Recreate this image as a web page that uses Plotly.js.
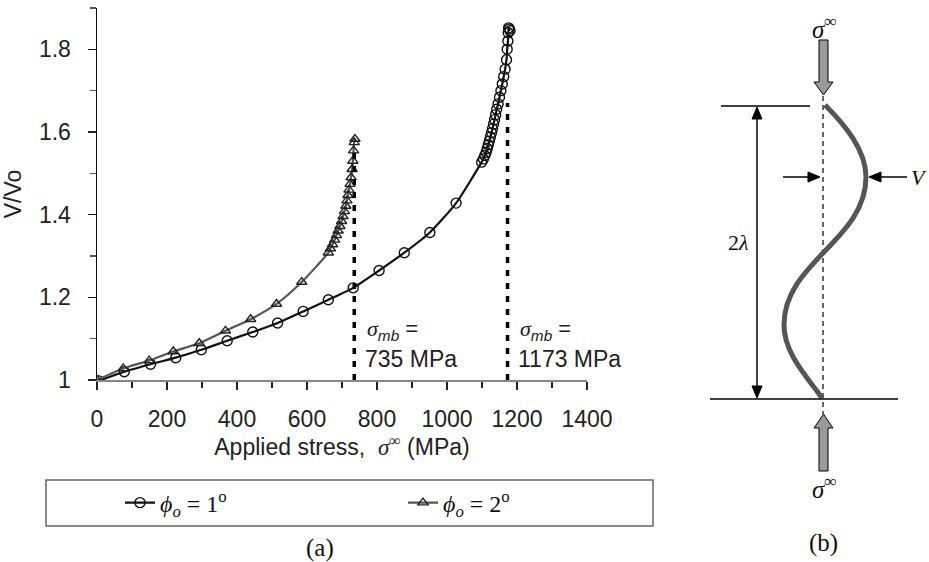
<!DOCTYPE html>
<html>
<head>
<meta charset="utf-8">
<script src="https://cdn.plot.ly/plotly-3.0.1.min.js"></script>
<style>html,body{margin:0;padding:0;background:#fff;}#chart{width:929px;height:562px;}</style>
</head>
<body>
<div id="chart"></div>
<script>
// ---- data ----
const stress1 = [5, 78, 153, 225, 298, 372, 445, 516, 589, 661, 732, 806, 878, 951, 1026,
  1099, 1104, 1108, 1112, 1115, 1118, 1121, 1124, 1127, 1130, 1133, 1136, 1139, 1142, 1146,
  1150, 1154, 1158, 1162, 1166, 1170, 1172, 1174, 1175, 1176, 1178, 1180];
const ratio1 = [0.998, 1.020, 1.038, 1.054, 1.073, 1.095, 1.116, 1.138, 1.166, 1.194, 1.223, 1.265, 1.308, 1.357, 1.428,
  1.527, 1.535, 1.543, 1.551, 1.560, 1.569, 1.578, 1.588, 1.598, 1.608, 1.619, 1.630, 1.642, 1.655, 1.668,
  1.684, 1.700, 1.716, 1.734, 1.752, 1.775, 1.800, 1.820, 1.840, 1.852, 1.849, 1.845];
const stress2 = [0, 75, 149, 218, 292, 367, 439, 513, 585, 661, 667, 673, 679, 684, 689, 694,
  699, 703, 707, 711, 714, 717, 720, 723, 726, 729, 731, 733, 735, 737];
const ratio2 = [1.000, 1.028, 1.047, 1.069, 1.089, 1.119, 1.147, 1.184, 1.237, 1.308, 1.318, 1.328, 1.339, 1.350, 1.361, 1.372,
  1.384, 1.396, 1.408, 1.421, 1.434, 1.447, 1.460, 1.474, 1.490, 1.510, 1.530, 1.555, 1.575, 1.583];
const seriesNames = ['<i>ϕ<sub>o</sub></i> = 1<sup>o</sup>', '<i>ϕ<sub>o</sub></i> = 2<sup>o</sup>'];
const mbStress = [735, 1173];
const mbTop = [1.56, 1.67];
const mbLabels = ['735 MPa', '1173 MPa'];
const xTicks = [0, 200, 400, 600, 800, 1000, 1200, 1400];
const yTicks = [1, 1.2, 1.4, 1.6, 1.8];
const yTickText = ['1', '1.2', '1.4', '1.6', '1.8'];

// ---- layout geometry helpers (pixel -> paper) ----
const L = 97, R = 587, T = 8, B = 380;
const W = 929, H = 562;
const X = px => (px - L) / (R - L);
const Y = py => (B - py) / (B - T);
const P = pts => pts.map((p, i) => (i === 0 ? 'M' : 'L') + X(p[0]).toFixed(5) + ',' + Y(p[1]).toFixed(5)).join(' ') + ' Z';

const sans = 'Liberation Sans, Arial, sans-serif';
const serif = 'Liberation Serif, Times New Roman, serif';
const grey = '#555555';
const FS = 23;

const traces = [
  {x: stress1, y: ratio1, name: seriesNames[0], legend: 'legend', mode: 'lines+markers', line: {color: '#111', width: 2.2, shape: 'spline', smoothing: 0.6},
   marker: {symbol: 'circle-open', size: 10, color: '#111', line: {width: 1.4}}},
  {x: stress2, y: ratio2, name: seriesNames[1], legend: 'legend2', mode: 'lines+markers', line: {color: grey, width: 2.2, shape: 'spline', smoothing: 0.6},
   marker: {symbol: 'triangle-up-open', size: 9, color: '#222', line: {width: 1.4}}}
];
mbStress.forEach((s, i) => {
  traces.push({x: [s, s], y: [1, mbTop[i]], mode: 'lines', showlegend: false, hoverinfo: 'skip',
    line: {color: '#000', width: 3.5, dash: '6px,7px'}});
});

// curve path (diagram b)
const C = (a) => X(a[0]).toFixed(5) + ',' + Y(a[1]).toFixed(5);
const curvePath = 'M' + C([825,105]) + ' C' + C([845,125]) + ' ' + C([866,150]) + ' ' + C([866,177]) +
  ' C' + C([866,240]) + ' ' + C([784,262]) + ' ' + C([784,325]) +
  ' C' + C([784,355]) + ' ' + C([810,380]) + ' ' + C([822,398]);

const shapes = [
  // legend frame
  {type: 'rect', xref: 'paper', yref: 'paper', x0: X(46), x1: X(653), y0: Y(526), y1: Y(480), line: {color: '#666', width: 1.5}},
  // diagram (b)
  {type: 'line', xref: 'paper', yref: 'paper', x0: X(823), x1: X(823), y0: Y(96), y1: Y(414), line: {color: '#000', width: 1.2, dash: '5px,4px'}},
  {type: 'path', xref: 'paper', yref: 'paper', path: curvePath, line: {color: '#555', width: 5}},
  {type: 'line', xref: 'paper', yref: 'paper', x0: X(721), x1: X(810), y0: Y(106), y1: Y(106), line: {color: '#000', width: 1.5}},
  {type: 'line', xref: 'paper', yref: 'paper', x0: X(710), x1: X(898), y0: Y(399), y1: Y(399), line: {color: '#000', width: 1.5}},
  {type: 'line', xref: 'paper', yref: 'paper', x0: X(757), x1: X(757), y0: Y(112), y1: Y(393), line: {color: '#000', width: 1.5}},
  {type: 'path', xref: 'paper', yref: 'paper', path: P([[757,107],[762,119],[752,119]]), fillcolor: '#000', line: {color: '#000', width: 1}},
  {type: 'path', xref: 'paper', yref: 'paper', path: P([[757,398],[762,386],[752,386]]), fillcolor: '#000', line: {color: '#000', width: 1}},
  {type: 'line', xref: 'paper', yref: 'paper', x0: X(783), x1: X(812), y0: Y(177), y1: Y(177), line: {color: '#000', width: 1.5}},
  {type: 'path', xref: 'paper', yref: 'paper', path: P([[820,177],[808,172],[808,182]]), fillcolor: '#000', line: {color: '#000', width: 1}},
  {type: 'line', xref: 'paper', yref: 'paper', x0: X(877), x1: X(907), y0: Y(177), y1: Y(177), line: {color: '#000', width: 1.5}},
  {type: 'path', xref: 'paper', yref: 'paper', path: P([[869,177],[881,172],[881,182]]), fillcolor: '#000', line: {color: '#000', width: 1}},
  {type: 'path', xref: 'paper', yref: 'paper', path: P([[819,40],[828,40],[828,82],[833,82],[823.5,95],[814,82],[819,82]]), fillcolor: '#9a9a9a', line: {color: '#000', width: 1}},
  {type: 'path', xref: 'paper', yref: 'paper', path: P([[819,471],[828,471],[828,428],[833,428],[823.5,414],[814,428],[819,428]]), fillcolor: '#9a9a9a', line: {color: '#000', width: 1}}
];

const annotations = [];
mbStress.forEach((s, i) => {
  annotations.push({x: s + 30, y: 1.122, xref: 'x', yref: 'y', xanchor: 'left', yanchor: 'middle', showarrow: false,
    text: '<span style="font-family:Liberation Serif"><i>σ</i></span><sub><i>mb</i></sub> =', font: {family: sans, size: 22, color: '#222'}});
  annotations.push({x: s + 24, y: 1.052, xref: 'x', yref: 'y', xanchor: 'left', yanchor: 'middle', showarrow: false,
    text: mbLabels[i], font: {family: sans, size: FS, color: '#222'}});
});
const txt = (px, py, text, size, family) => ({x: X(px), y: Y(py), xref: 'paper', yref: 'paper', xanchor: 'center', yanchor: 'middle',
  showarrow: false, text: text, font: {family: family || serif, size: size, color: '#111'}});
annotations.push(txt(320, 548, '(a)', 25));
annotations.push(txt(823, 543, '(b)', 25));
annotations.push(txt(824, 27, '<i>σ</i><sup>∞</sup>', 25));
annotations.push(txt(824, 487, '<i>σ</i><sup>∞</sup>', 25));
annotations.push(txt(738, 242, '2<i>λ</i>', 22));
annotations.push(txt(919, 177, '<i>V</i>', 22));

const legendBase = {
  orientation: 'h', xanchor: 'left', y: Y(503), yanchor: 'middle',
  bgcolor: 'rgba(0,0,0,0)', borderwidth: 0,
  font: {family: serif, size: 24, color: '#111'}, itemwidth: 30
};

const layout = {
  width: W, height: H,
  margin: {l: L, r: W - R, t: T, b: H - B, pad: 0},
  paper_bgcolor: '#fff', plot_bgcolor: '#fff',
  showlegend: true,
  font: {family: sans, size: FS, color: '#222'},
  xaxis: {
    range: [0, 1400], tickvals: xTicks, showgrid: false, zeroline: false,
    showline: true, linecolor: '#888', linewidth: 2,
    ticks: 'outside', ticklen: 8, tickwidth: 1.5, tickcolor: '#222', ticklabelstandoff: 9,
    minor: {dtick: 100, ticks: 'outside', ticklen: 6, tickwidth: 1.2, tickcolor: '#222'},
    tickfont: {family: sans, size: FS, color: '#222'},
    title: {text: 'Applied stress,  <span style="font-family:Liberation Serif"><i>σ</i><sup>∞</sup></span> (MPa)', font: {family: sans, size: FS, color: '#222'}, standoff: 8}
  },
  yaxis: {
    range: [1, 1.9], tickvals: yTicks, ticktext: yTickText, showgrid: false, zeroline: false,
    showline: true, linecolor: '#111', linewidth: 1.5,
    ticks: 'outside', ticklen: 8, tickwidth: 1.5, tickcolor: '#222', ticklabelstandoff: 12,
    minor: {dtick: 0.1, ticks: 'outside', ticklen: 6, tickwidth: 1.2, tickcolor: '#555'},
    tickfont: {family: sans, size: FS, color: '#222'},
    title: {text: 'V/Vo', font: {family: sans, size: FS, color: '#222'}, standoff: 18}
  },
  legend: Object.assign({}, legendBase, {x: X(120)}),
  legend2: Object.assign({}, legendBase, {x: X(403)}),
  shapes: shapes,
  annotations: annotations
};

Plotly.newPlot('chart', traces, layout, {staticPlot: true, displayModeBar: false});
</script>
</body>
</html>
